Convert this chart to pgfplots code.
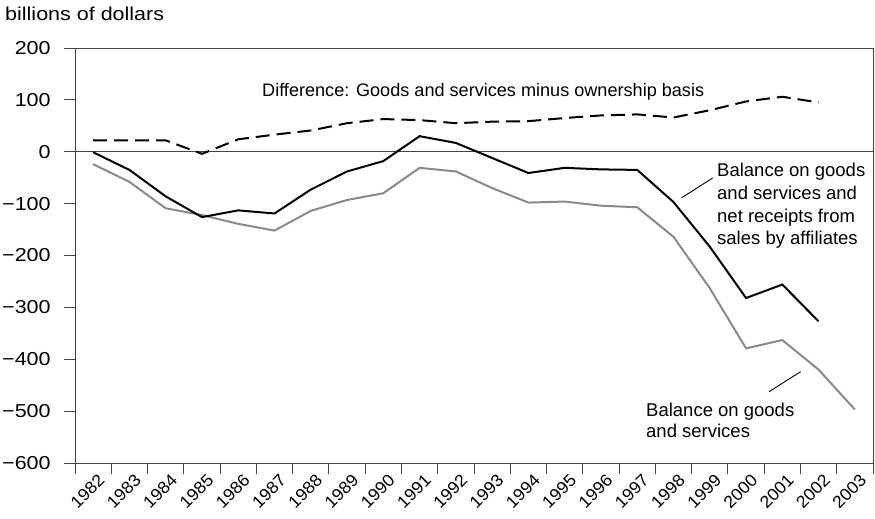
\documentclass[border=0pt]{standalone}
\usepackage{pgfplots}
\pgfplotsset{compat=1.18}
\usepackage{fontspec}
\setmainfont{Liberation Sans}
\newfontfamily\tickfont{Liberation Sans}[FakeStretch=1.15]
\newfontfamily\xtickfont{Liberation Sans}[FakeStretch=1.05]
\definecolor{axgray}{HTML}{444444}
\definecolor{lgray}{HTML}{8A8A8A}
\begin{document}
\fontsize{18.5bp}{22bp}\selectfont
\begin{tikzpicture}
\begin{axis}[
  name=ax,
  scale only axis,
  width=798bp, height=415bp,
  xmin=-0.5, xmax=21.5,
  ymin=-600, ymax=200,
  ytick={-600,-500,...,200},
  yticklabels={−600,−500,−400,−300,−200,−100,0,100,200},
  xtick={-0.5,0.5,...,21.5},
  x tick label as interval,
  xticklabels={1982,1983,1984,1985,1986,1987,1988,1989,1990,1991,1992,1993,1994,1995,1996,1997,1998,1999,2000,2001,2002,2003},
  xticklabel style={rotate=45, anchor=north east, inner sep=0pt, xshift=4bp, yshift=-2bp, font=\xtickfont\fontsize{17bp}{19bp}\selectfont},
  yticklabel style={anchor=east, xshift=-7bp, font=\tickfont\fontsize{18.7bp}{22bp}\selectfont},
  tick align=outside,
  major tick length=11bp,
  tick style={axgray, line width=0.9bp},
  axis line style={axgray, line width=0.9bp},
  axis x line*=bottom,
  axis y line*=left,
  clip=false,
]
% top border and zero line
\draw[axgray, line width=0.9bp] (rel axis cs:0,1) -- (rel axis cs:1,1) -- (rel axis cs:1,0);
\draw[axgray, line width=0.9bp] (axis cs:-0.5,0) -- (axis cs:21.5,0);

% Balance on goods and services
\addplot[lgray, line width=2bp] coordinates {
(0,-24) (1,-58) (2,-109) (3,-122) (4,-139) (5,-152) (6,-114) (7,-93) (8,-80) (9,-31) (10,-38) (11,-70) (12,-98) (13,-96) (14,-104) (15,-107) (16,-164) (17,-263) (18,-379) (19,-363) (20,-420) (21,-497)
};
% Balance on goods and services and net receipts
\addplot[black, line width=2bp] coordinates {
(0,-1) (1,-35) (2,-86) (3,-126) (4,-113) (5,-119) (6,-73) (7,-38) (8,-18) (9,30) (10,17) (11,-12) (12,-41) (13,-31) (14,-34) (15,-35) (16,-97) (17,-183) (18,-282) (19,-256) (20,-327)
};
% Difference
\addplot[black, line width=2bp, dash pattern=on 14bp off 7bp] coordinates {
(0,22) (1,22) (2,22) (3,-4) (4,24) (5,33) (6,41) (7,55) (8,63) (9,61) (10,55) (11,58) (12,59) (13,65) (14,70) (15,72) (16,66) (17,80) (18,97) (19,106) (20,95)
};
\end{axis}
\begin{scope}[shift={([xshift=-75bp,yshift=48bp]ax.north west)}, x=1bp, y=-1bp]
\node[anchor=west, inner sep=0pt, font=\tickfont\fontsize{18.7bp}{22bp}\selectfont] at (5,14) {billions of dollars};
\node[anchor=west, inner sep=0pt, font=\fontsize{18.1bp}{22bp}\selectfont] at (262,92) {Difference: Goods and services minus ownership basis};
\node[anchor=north west, inner sep=0pt, align=left, font=\fontsize{18.5bp}{22.7bp}\selectfont] at (717,163) {Balance on goods\\and services and\\net receipts from\\sales by affiliates};
\draw[black, line width=0.9bp] (681.7,197.7) -- (712.7,178);
\node[anchor=north west, inner sep=0pt, align=left, font=\fontsize{18.5bp}{21bp}\selectfont] at (646,403) {Balance on goods\\and services};
\draw[black, line width=0.9bp] (769,391.7) -- (800.7,371.7);
\end{scope}
\pgfresetboundingbox
\path ([xshift=-75bp,yshift=-56bp]ax.south west) rectangle ([xshift=2bp,yshift=48bp]ax.north east);
\end{tikzpicture}
\end{document}
